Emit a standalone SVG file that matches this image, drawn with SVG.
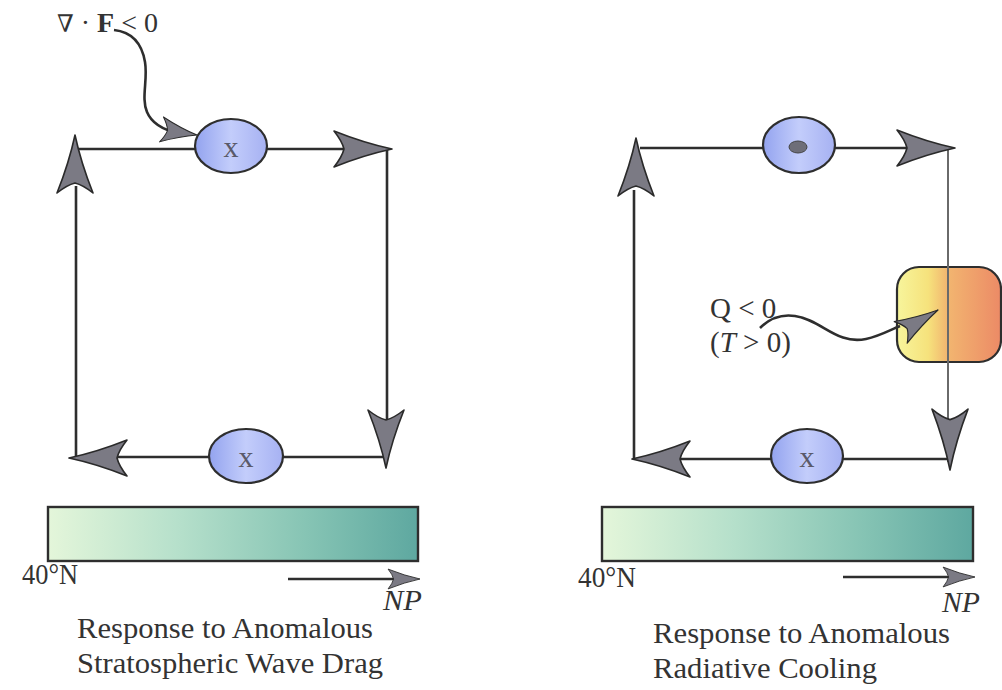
<svg xmlns="http://www.w3.org/2000/svg" xmlns:xlink="http://www.w3.org/1999/xlink" width="1002" height="690" viewBox="0 0 1002 690" font-family="Liberation Serif, Times New Roman, serif">
<style>
.ln{fill:none;stroke:#2e2e2e;stroke-width:2.6}
.lnl{fill:none;stroke:#6a6a6a;stroke-width:2}
.ah{fill:#7b7a84;stroke:#2a2a2a;stroke-width:1.6;stroke-linejoin:round}
.ell{fill:url(#gEll);stroke:#2e2e2e;stroke-width:2.2}
.t{font-family:'Liberation Serif','Times New Roman',Times,serif;fill:#333}
.x{font-family:'Liberation Serif','Times New Roman',Times,serif;font-size:30px;fill:#5a5a6a;text-anchor:middle}
.bar{stroke:#2e2e2e;stroke-width:2.4;fill:url(#gBar)}
</style>
<defs>
<linearGradient id="gEll" x1="0" y1="0" x2="1" y2="0">
<stop offset="0" stop-color="#93a3ef"/>
<stop offset="0.5" stop-color="#c3cdfb"/>
<stop offset="1" stop-color="#a6b1f2"/>
</linearGradient>
<linearGradient id="gBar" x1="0" y1="0" x2="1" y2="0">
<stop offset="0" stop-color="#e4f6da"/>
<stop offset="0.35" stop-color="#b6e0cb"/>
<stop offset="0.7" stop-color="#86c4b4"/>
<stop offset="1" stop-color="#5ea8a0"/>
</linearGradient>
<linearGradient id="gOr" x1="0" y1="0" x2="1" y2="0">
<stop offset="0" stop-color="#f7f59c"/>
<stop offset="0.3" stop-color="#f6e27c"/>
<stop offset="0.48" stop-color="#f2b670"/>
<stop offset="1" stop-color="#ec8a66"/>
</linearGradient>
<path id="ah" class="ah" d="M0,0 Q-28,-6 -58,-18 Q-50,-8 -48,0 Q-50,8 -58,18 Q-28,6 0,0 Z"/>
</defs>

<g id="bars">
<rect class="bar" x="48" y="507" width="370" height="54"/>
<rect class="bar" x="602" y="507" width="371" height="54"/>
</g>

<g id="heating-node">
<rect x="897" y="267" width="104" height="95" rx="22" ry="22" fill="url(#gOr)" stroke="#2e2e2e" stroke-width="2.2"/>
</g>

<g id="connectors">
<path class="ln" d="M77,149 H386"/>
<path class="ln" d="M387,149 V458"/>
<path class="ln" d="M386,457 H80"/>
<path class="ln" d="M76,456 V186"/>
<use xlink:href="#ah" transform="translate(392,149)"/>
<use xlink:href="#ah" transform="translate(386,468) rotate(90)"/>
<use xlink:href="#ah" transform="translate(69,458) rotate(180)"/>
<use xlink:href="#ah" transform="translate(75,135) rotate(-90)"/>
<path class="ln" d="M640,148 H950"/>
<path class="lnl" d="M948,148 V462"/>
<path class="ln" d="M947,459 H640"/>
<path class="ln" d="M634,459 V190"/>
<use xlink:href="#ah" transform="translate(955,148)"/>
<use xlink:href="#ah" transform="translate(950,470) rotate(90) scale(1.05,1)"/>
<use xlink:href="#ah" transform="translate(632,459) rotate(180)"/>
<use xlink:href="#ah" transform="translate(636,138) rotate(-90)"/>
<path class="ln" d="M288,579 H412"/>
<use xlink:href="#ah" transform="translate(420,579) scale(0.55)"/>
<path class="ln" d="M843,577 H967"/>
<use xlink:href="#ah" transform="translate(975,577) scale(0.55)"/>
<path class="ln" d="M114,30 C132,32 142,44 145,62 C148,80 141,98 147,112 C152,124 164,130 178,133"/>
<use xlink:href="#ah" transform="translate(197,135) rotate(9) scale(0.62,0.7)"/>
<path class="ln" d="M760,328 C770,318 782,314 795,316 C822,320 836,345 866,339 C880,336 890,330 900,326"/>
<use xlink:href="#ah" transform="translate(938,310) rotate(-31) scale(0.75,0.7)"/>
</g>

<g id="node-top-left">
<ellipse class="ell" cx="231" cy="146" rx="36" ry="27"/>
<text class="x" x="231" y="157">x</text>
</g>
<g id="node-bottom-left">
<ellipse class="ell" cx="246" cy="456" rx="37" ry="27"/>
<text class="x" x="246" y="467">x</text>
</g>
<g id="node-top-right">
<ellipse class="ell" cx="799" cy="145" rx="36" ry="28"/>
<ellipse cx="798" cy="147" rx="9" ry="6" fill="#6e6e78" stroke="#444" stroke-width="1"/>
</g>
<g id="node-bottom-right">
<ellipse class="ell" cx="807" cy="456" rx="36" ry="27"/>
<text class="x" x="807" y="467">x</text>
</g>

<g id="labels">
<text class="t" x="57" y="32" font-size="28" textLength="101" lengthAdjust="spacingAndGlyphs"><tspan font-family="DejaVu Serif, serif" font-size="24">∇</tspan> · <tspan font-weight="bold">F</tspan> &lt; 0</text>
<text class="t" x="710" y="318" font-size="29">Q &lt; 0</text>
<text class="t" x="710" y="352" font-size="29">(<tspan font-style="italic">T</tspan> &gt; 0)</text>
<text class="t" x="22" y="584" font-size="29" textLength="56" lengthAdjust="spacingAndGlyphs">40°N</text>
<text class="t" x="578" y="587" font-size="29" textLength="58" lengthAdjust="spacingAndGlyphs">40°N</text>
<text class="t" x="383" y="610" font-size="29" font-style="italic" textLength="39" lengthAdjust="spacingAndGlyphs">NP</text>
<text class="t" x="942" y="612" font-size="29" font-style="italic" textLength="38" lengthAdjust="spacingAndGlyphs">NP</text>
<text class="t" x="77" y="638" font-size="29" textLength="296" lengthAdjust="spacingAndGlyphs">Response to Anomalous</text>
<text class="t" x="77" y="673" font-size="29" textLength="306" lengthAdjust="spacingAndGlyphs">Stratospheric Wave Drag</text>
<text class="t" x="653" y="643" font-size="29" textLength="297" lengthAdjust="spacingAndGlyphs">Response to Anomalous</text>
<text class="t" x="653" y="678" font-size="29" textLength="224" lengthAdjust="spacingAndGlyphs">Radiative Cooling</text>
</g>
</svg>
